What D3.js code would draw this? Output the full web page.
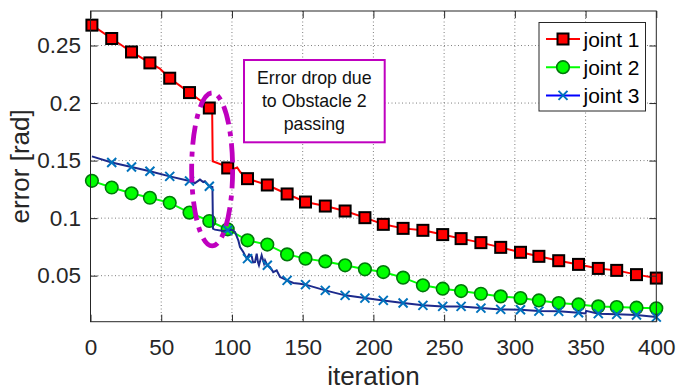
<!DOCTYPE html>
<html>
<head>
<meta charset="utf-8">
<script src="https://cdn.jsdelivr.net/npm/d3@7"></script>
<style>
  body { margin: 0; background: #fff; }
  svg { display: block; font-family: "Liberation Sans", Arial, Helvetica, sans-serif; }
</style>
</head>
<body>
<div id="chart"></div>
<script>
// iterations where the markers sit (30 markers over 1..400)
var markerIter = [1, 15, 29, 42, 56, 70, 84, 97, 111, 125, 139, 152, 166, 180, 194,
	207, 221, 235, 249, 262, 276, 290, 304, 317, 331, 345, 359, 372, 386, 400];

var joint1Marks = [0.2677, 0.2561, 0.2444, 0.2349, 0.2216, 0.2091, 0.1957, 0.1436, 0.1343, 0.1288,
	0.1210, 0.1140, 0.1105, 0.1062, 0.1004, 0.0946, 0.0911, 0.0894, 0.0857, 0.0822,
	0.0787, 0.0746, 0.0703, 0.0668, 0.0630, 0.0598, 0.0563, 0.0546, 0.0509, 0.0479];

var joint2Marks = [0.1324, 0.1266, 0.1216, 0.1177, 0.1133, 0.1048, 0.0975, 0.0903, 0.0807, 0.0770,
	0.0685, 0.0648, 0.0624, 0.0590, 0.0555, 0.0531, 0.0483, 0.0416, 0.0387, 0.0366,
	0.0343, 0.0320, 0.0305, 0.0285, 0.0262, 0.0250, 0.0233, 0.0227, 0.0222, 0.0216];

var joint3Marks = [0.1537, 0.1483, 0.1444, 0.1407, 0.1363, 0.1323, 0.1277, 0.0894, 0.0648, 0.0590,
	0.0459, 0.0422, 0.0372, 0.0329, 0.0305, 0.0285, 0.0262, 0.0242, 0.0233, 0.0233,
	0.0218, 0.0207, 0.0204, 0.0192, 0.0190, 0.0178, 0.0170, 0.0164, 0.0158, 0.0140];

// extra line points between markers (the drop and wiggles), [iteration, error]
var joint1Extra = [[49, 0.2300], [77.4, 0.2024], [86, 0.1946], [86.4, 0.1494], [94, 0.1459],
	[100.5, 0.1425], [103.7, 0.1440], [106, 0.1398]];

var joint3Line = [[1, 0.1537], [15, 0.1483], [29, 0.1444], [42, 0.1407], [56, 0.1363],
	[70, 0.1323], [73.9, 0.1305], [77.4, 0.1335], [79.7, 0.1314], [80.9, 0.1320],
	[84, 0.1277], [86.2, 0.1270], [86.6, 0.0909], [88, 0.0900], [93.9, 0.0888],
	[97, 0.0894], [99.8, 0.0900], [102.2, 0.0879], [104.5, 0.0807], [105.7, 0.0749],
	[108, 0.0705], [110.4, 0.0648], [112.1, 0.0685], [114, 0.0668], [114.9, 0.0616],
	[116.3, 0.0618], [117.5, 0.0691], [118.4, 0.0616], [119.1, 0.0590], [121, 0.0677],
	[122.7, 0.0604], [123.4, 0.0633], [125, 0.0590], [126.9, 0.0575], [129.2, 0.0531],
	[131.6, 0.0546], [134, 0.0488], [136.1, 0.0477], [139, 0.0459], [143.4, 0.0436],
	[148.1, 0.0430], [152, 0.0422], [166, 0.0372], [180, 0.0329], [194, 0.0305],
	[207, 0.0285], [221, 0.0262], [235, 0.0242], [249, 0.0233], [262, 0.0233],
	[276, 0.0218], [290, 0.0207], [304, 0.0204], [317, 0.0192], [331, 0.0190],
	[345, 0.0178], [350, 0.0172], [350.4, 0.0194], [359, 0.0170], [372, 0.0164],
	[386, 0.0158], [400, 0.0140]];

var xTicks = [0, 50, 100, 150, 200, 250, 300, 350, 400];
var yTicks = [0.05, 0.1, 0.15, 0.2, 0.25];
var yTickLabels = ["0.05", "0.1", "0.15", "0.2", "0.25"];
var legendNames = ["joint 1", "joint 2", "joint 3"];
var noteLines = ["Error drop due", "to Obstacle 2", "passing"];

var W = 678, H = 390;
var plotL = 90.5, plotR = 656.3, plotT = 11, plotB = 321.7;

var svg = d3.select('#chart').append('svg').attr('width', W).attr('height', H);

var x = d3.scaleLinear().domain([0, 400]).range([plotL, plotR]);
var y = d3.scaleLinear().domain([0.01, 0.28]).range([plotB, plotT]);

var axisCol = '#262626';

// grid
var grid = svg.append('g').attr('stroke', '#555').attr('stroke-width', 1)
	.attr('stroke-dasharray', '1,2.5').attr('opacity', 0.75);
grid.selectAll('.gx').data(xTicks.slice(1, -1)).enter().append('line')
	.attr('x1', function(d) { return x(d); }).attr('x2', function(d) { return x(d); })
	.attr('y1', plotT).attr('y2', plotB);
grid.selectAll('.gy').data(yTicks).enter().append('line')
	.attr('x1', plotL).attr('x2', plotR)
	.attr('y1', function(d) { return y(d); }).attr('y2', function(d) { return y(d); });

// series
function pairs(vals) {
	return markerIter.map(function(it, i) { return [it, vals[i]]; });
}
var joint1Line = pairs(joint1Marks).concat(joint1Extra).sort(function(a, b) { return a[0] - b[0]; });

var line = d3.line().x(function(d) { return x(d[0]); }).y(function(d) { return y(d[1]); });

function squares(g, data) {
	g.selectAll('rect').data(data).enter().append('rect')
		.attr('x', function(d) { return x(d[0]) - 5.5; })
		.attr('y', function(d) { return y(d[1]) - 5.5; })
		.attr('width', 11).attr('height', 11)
		.attr('fill', '#ff0000').attr('stroke', '#000').attr('stroke-width', 2);
}
function circles(g, data) {
	g.selectAll('circle').data(data).enter().append('circle')
		.attr('cx', function(d) { return x(d[0]); })
		.attr('cy', function(d) { return y(d[1]); })
		.attr('r', 6.3).attr('fill', '#00ff00').attr('stroke', '#00780a').attr('stroke-width', 1.6);
}
function crosses(g, data) {
	g.selectAll('path').data(data).enter().append('path')
		.attr('d', function(d) {
			var cx = x(d[0]), cy = y(d[1]), s = 4.5;
			return 'M' + (cx - s) + ',' + (cy - s) + 'L' + (cx + s) + ',' + (cy + s) +
				'M' + (cx - s) + ',' + (cy + s) + 'L' + (cx + s) + ',' + (cy - s);
		})
		.attr('stroke', '#0072bd').attr('stroke-width', 2).attr('fill', 'none');
}

var s1 = svg.append('g');
s1.append('path').datum(joint1Line).attr('d', line)
	.attr('fill', 'none').attr('stroke', '#ff0000').attr('stroke-width', 2);
squares(s1, pairs(joint1Marks));

var s2 = svg.append('g');
s2.append('path').datum(pairs(joint2Marks)).attr('d', line)
	.attr('fill', 'none').attr('stroke', '#00ff00').attr('stroke-width', 2);
circles(s2, pairs(joint2Marks));

var s3 = svg.append('g');
s3.append('path').datum(joint3Line).attr('d', line)
	.attr('fill', 'none').attr('stroke', '#1c2a8c').attr('stroke-width', 2);
crosses(s3, pairs(joint3Marks));

// axes box with inward ticks
var fmtY = function(d) { return yTickLabels[yTicks.indexOf(d)]; };
var gx = svg.append('g').attr('transform', 'translate(0,' + plotB + ')')
	.call(d3.axisBottom(x).tickValues(xTicks).tickSizeInner(-7).tickSizeOuter(0).tickPadding(17));
var gy = svg.append('g').attr('transform', 'translate(' + plotL + ',0)')
	.call(d3.axisLeft(y).tickValues(yTicks).tickFormat(fmtY).tickSizeInner(-7).tickSizeOuter(0).tickPadding(9.5));
var gt = svg.append('g').attr('transform', 'translate(0,' + plotT + ')')
	.call(d3.axisTop(x).tickValues(xTicks).tickFormat('').tickSizeInner(-7).tickSizeOuter(0));
var gr = svg.append('g').attr('transform', 'translate(' + plotR + ',0)')
	.call(d3.axisRight(y).tickValues(yTicks).tickFormat('').tickSizeInner(-7).tickSizeOuter(0));
[gx, gy, gt, gr].forEach(function(g) {
	g.select('.domain').remove();
	g.selectAll('line').attr('stroke', axisCol);
	g.selectAll('text').attr('fill', axisCol).style('font-size', '22.5px')
		.style('font-family', '"Liberation Sans", Arial, sans-serif');
});
svg.append('rect').attr('x', plotL).attr('y', plotT).attr('width', plotR - plotL).attr('height', plotB - plotT)
	.attr('fill', 'none').attr('stroke', axisCol).attr('stroke-width', 1);

// axis labels
svg.append('text').attr('x', (plotL + plotR) / 2).attr('y', 385).attr('text-anchor', 'middle')
	.attr('fill', axisCol).style('font-size', '26px').text('iteration');
svg.append('text').attr('transform', 'translate(29,' + ((plotT + plotB) / 2) + ') rotate(-90)')
	.attr('text-anchor', 'middle').attr('fill', axisCol).style('font-size', '26px').text('error [rad]');

// ellipse annotation around the drop
svg.append('ellipse').attr('cx', x(86)).attr('cy', y(0.1423)).attr('rx', 20.5).attr('ry', 76.5)
	.attr('fill', 'none').attr('stroke', '#bf00bf').attr('stroke-width', 4.8)
	.attr('stroke-dasharray', '19,7,5,7');

// text box
var note = svg.append('g');
note.append('rect').attr('x', 244).attr('y', 60).attr('width', 140.7).attr('height', 82.3)
	.attr('fill', '#fff').attr('stroke', '#bf00bf').attr('stroke-width', 2);
note.selectAll('text').data(noteLines).enter().append('text')
	.attr('x', 314.3).attr('y', function(d, i) { return 83.5 + i * 23; })
	.attr('text-anchor', 'middle').attr('fill', '#111').style('font-size', '17.8px')
	.text(function(d) { return d; });

// legend
var lg = svg.append('g');
lg.append('rect').attr('x', 539).attr('y', 22.5).attr('width', 106.5).attr('height', 88.5)
	.attr('fill', '#fff').attr('stroke', '#262626').attr('stroke-width', 1);
var legendY = [39, 67.2, 95.4];
var legendCols = ['#ff0000', '#00ff00', '#0000ff'];
legendNames.forEach(function(name, i) {
	var ly = legendY[i];
	lg.append('line').attr('x1', 546).attr('x2', 580).attr('y1', ly).attr('y2', ly)
		.attr('stroke', legendCols[i]).attr('stroke-width', 2);
	if (i === 0) {
		lg.append('rect').attr('x', 557.5).attr('y', ly - 5.5).attr('width', 11).attr('height', 11)
			.attr('fill', '#ff0000').attr('stroke', '#000').attr('stroke-width', 2);
	} else if (i === 1) {
		lg.append('circle').attr('cx', 563).attr('cy', ly).attr('r', 6.3)
			.attr('fill', '#00ff00').attr('stroke', '#00780a').attr('stroke-width', 1.6);
	} else {
		lg.append('path').attr('d', 'M558.5,' + (ly - 4.5) + 'L567.5,' + (ly + 4.5) + 'M558.5,' + (ly + 4.5) + 'L567.5,' + (ly - 4.5))
			.attr('stroke', '#0072bd').attr('stroke-width', 2);
	}
	lg.append('text').attr('x', 583.5).attr('y', ly + 7.5).attr('fill', '#000')
		.style('font-size', '21px').text(name);
});
</script>
</body>
</html>
